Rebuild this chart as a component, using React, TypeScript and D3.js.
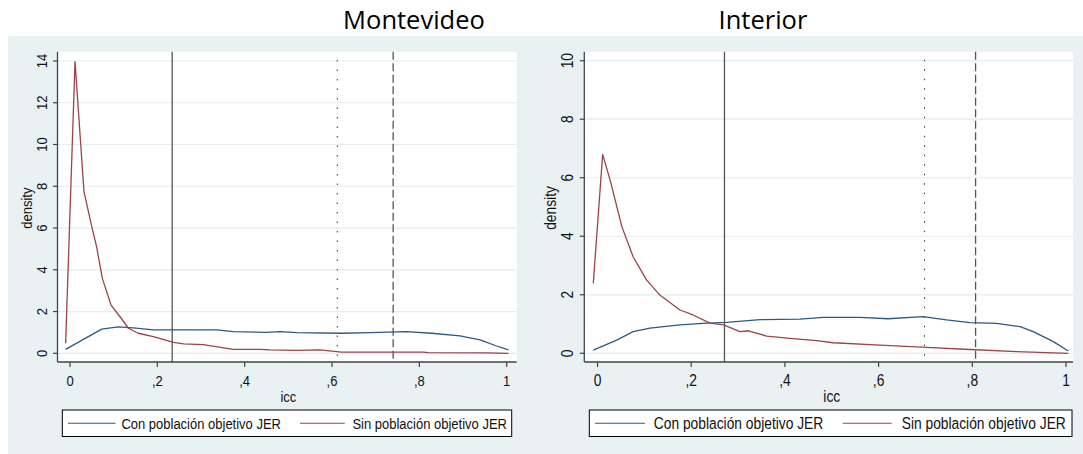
import React from "react";
import * as d3 from "d3";

// ---------- DATA ----------
const panelTitles = ["Montevideo", "Interior"];
const seriesNames = ["Con población objetivo JER", "Sin población objetivo JER"];
const xTickValues = [0, 0.2, 0.4, 0.6, 0.8, 1];
const xTickLabels = ["0", ",2", ",4", ",6", ",8", "1"];
const yTicksMontevideo = [0, 2, 4, 6, 8, 10, 12, 14];
const yTicksInterior = [0, 2, 4, 6, 8, 10];

// Montevideo: [icc, density]
const montevideoCon: [number, number][] = [
  [-0.01, 0.19], [0.0725, 1.16], [0.11, 1.27], [0.145, 1.22], [0.191, 1.12], [0.237, 1.12],
  [0.336, 1.12], [0.374, 1.04], [0.45, 1.0], [0.481, 1.04], [0.519, 0.99], [0.622, 0.96],
  [0.687, 0.99], [0.771, 1.04], [0.828, 0.96], [0.893, 0.83], [0.939, 0.64], [0.977, 0.35],
  [1.004, 0.16],
];
const montevideoSin: [number, number][] = [
  [-0.01, 0.48], [0.0115, 13.97], [0.032, 7.74], [0.05, 6.06], [0.061, 5.1], [0.074, 3.59],
  [0.094, 2.31], [0.1145, 1.75], [0.134, 1.2], [0.156, 0.96], [0.191, 0.8], [0.237, 0.52],
  [0.26, 0.45], [0.305, 0.42], [0.359, 0.24], [0.374, 0.19], [0.435, 0.19], [0.458, 0.16],
  [0.519, 0.14], [0.572, 0.16], [0.622, 0.06], [0.809, 0.06], [0.82, 0.03], [0.954, 0.02],
  [1.004, 0.0],
];
// Interior: [icc, density]
const interiorCon: [number, number][] = [
  [-0.009, 0.11], [0.041, 0.45], [0.076, 0.74], [0.112, 0.86], [0.176, 0.97], [0.233, 1.03],
  [0.276, 1.06], [0.347, 1.15], [0.432, 1.17], [0.482, 1.23], [0.56, 1.23], [0.62, 1.18],
  [0.695, 1.25], [0.745, 1.14], [0.795, 1.05], [0.852, 1.02], [0.902, 0.91], [0.93, 0.74],
  [0.973, 0.4], [1.005, 0.08],
];
const interiorSin: [number, number][] = [
  [-0.009, 2.39], [0.011, 6.8], [0.027, 5.92], [0.052, 4.33], [0.076, 3.3], [0.105, 2.5],
  [0.133, 1.99], [0.176, 1.48], [0.204, 1.31], [0.24, 1.03], [0.269, 0.97], [0.304, 0.74],
  [0.322, 0.77], [0.361, 0.59], [0.411, 0.51], [0.468, 0.43], [0.503, 0.36], [0.603, 0.28],
  [0.703, 0.2], [0.795, 0.13], [0.895, 0.06], [1.005, 0.0],
];
// reference lines: [solid, dotted, dashed]
const refMontevideo = [0.234, 0.612, 0.74];
const refInterior = [0.271, 0.698, 0.807];

// ---------- STYLE / LAYOUT ----------
const W = 1083;
const H = 454;
const BG = "#e9f1f3";
const GRID = "#e3ecef";
const AXIS = "#444";
const COLORS = ["#2b5a82", "#9a444a"];
const FONT = "'Liberation Sans', Arial, sans-serif";
const STRETCH = 1.13;

type Panel = {
  title: string;
  titleX: number;
  con: [number, number][];
  sin: [number, number][];
  refs: number[];
  yTicks: number[];
  yMax: number;
  plot: { left: number; right: number; top: number; bottom: number };
  x0: number; x1: number;
  y0: number; yTopVal: number; yTopPix: number;
  fs: number;
  yLabX: number; densX: number;
  legend: { left: number; right: number; s1: [number, number]; t1: number; s2: [number, number]; t2: number };
};

const panels: Panel[] = [
  {
    title: panelTitles[0], titleX: 414,
    con: montevideoCon, sin: montevideoSin, refs: refMontevideo,
    yTicks: yTicksMontevideo, yMax: 14,
    plot: { left: 57.5, right: 516.7, top: 51.7, bottom: 362 },
    x0: 70, x1: 506.7, y0: 353.3, yTopVal: 14, yTopPix: 61,
    fs: 13, yLabX: 46.5, densX: 31.5,
    legend: { left: 62.3, right: 511.7, s1: [68, 115.5], t1: 121.4, s2: [300, 344.8], t2: 352.4 },
  },
  {
    title: panelTitles[1], titleX: 763,
    con: interiorCon, sin: interiorSin, refs: refInterior,
    yTicks: yTicksInterior, yMax: 10,
    plot: { left: 584.3, right: 1073, top: 51.7, bottom: 362 },
    x0: 597.5, x1: 1066, y0: 353.3, yTopVal: 10, yTopPix: 60.7,
    fs: 13.8, yLabX: 572.5, densX: 555.5,
    legend: { left: 589.3, right: 1072, s1: [595, 645], t1: 653.8, s2: [842.8, 891.7], t2: 901.7 },
  },
];

function HText({ x, y, fs, anchor, children }: { x: number; y: number; fs: number; anchor?: string; children: React.ReactNode }) {
  return (
    <g transform={`translate(${x},${y}) scale(1,${STRETCH})`}>
      <text x={0} y={0} textAnchor={anchor ?? "start"} fontFamily={FONT} fontSize={fs} fill="#111">
        {children}
      </text>
    </g>
  );
}

function PanelView({ p }: { p: Panel }) {
  const x = d3.scaleLinear().domain([0, 1]).range([p.x0, p.x1]);
  const y = d3.scaleLinear().domain([0, p.yTopVal]).range([p.y0, p.yTopPix]);
  const line = d3
    .line<[number, number]>()
    .x((d) => x(d[0]))
    .y((d) => y(d[1]));
  const { left, right, top, bottom } = p.plot;
  const dashes = [null, "1.5,8", "8,3.5"];
  const lg = p.legend;
  const lgTop = 410;
  const lgBot = 436.5;
  const lgMid = (lgTop + lgBot) / 2;
  return (
    <g>
      <text x={p.titleX} y={29} textAnchor="middle" fontFamily="'Open Sans', sans-serif" fontSize={25.5} fill="#000">
        {p.title}
      </text>
      <rect x={left} y={top} width={right - left} height={bottom - top} fill="#fff" />
      {p.yTicks.map((t) => (
        <line key={"g" + t} x1={left} x2={right} y1={y(t)} y2={y(t)} stroke={GRID} strokeWidth={1.2} />
      ))}
      {p.refs.map((r, i) => (
        <line
          key={"r" + i}
          x1={x(r)} x2={x(r)}
          y1={i === 1 ? y(p.yTopVal) - 1 : top}
          y2={bottom}
          stroke={i === 1 ? "#333" : "#555"}
          strokeWidth={i === 1 ? 1 : 1.3}
          strokeDasharray={dashes[i] ?? undefined}
        />
      ))}
      <path d={line(p.con) ?? ""} fill="none" stroke={COLORS[0]} strokeWidth={1.3} strokeLinejoin="round" />
      <path d={line(p.sin) ?? ""} fill="none" stroke={COLORS[1]} strokeWidth={1.3} strokeLinejoin="round" />
      <line x1={left} x2={left} y1={top} y2={bottom} stroke={AXIS} strokeWidth={1.3} />
      <line x1={left} x2={right} y1={bottom} y2={bottom} stroke={AXIS} strokeWidth={1.3} />
      {p.yTicks.map((t) => (
        <g key={"yt" + t}>
          <line x1={left - 4.5} x2={left} y1={y(t)} y2={y(t)} stroke={AXIS} strokeWidth={1.2} />
          <text
            transform={`translate(${p.yLabX},${y(t)}) rotate(-90) scale(1,${STRETCH})`}
            textAnchor="middle"
            fontFamily={FONT}
            fontSize={p.fs}
            fill="#111"
          >
            {String(t)}
          </text>
        </g>
      ))}
      {xTickValues.map((t, i) => (
        <g key={"xt" + t}>
          <line x1={x(t)} x2={x(t)} y1={bottom} y2={bottom + 5} stroke={AXIS} strokeWidth={1.2} />
          <HText x={x(t)} y={385.5} fs={p.fs} anchor="middle">{xTickLabels[i]}</HText>
        </g>
      ))}
      <HText x={(p.x0 + p.x1) / 2} y={401.5} fs={p.fs} anchor="middle">icc</HText>
      <text
        transform={`translate(${p.densX},${(y(0) + y(p.yMax)) / 2 + 1}) rotate(-90) scale(1,${STRETCH})`}
        textAnchor="middle"
        fontFamily={FONT}
        fontSize={p.fs}
        fill="#111"
      >
        density
      </text>
      <rect x={lg.left} y={lgTop} width={lg.right - lg.left} height={lgBot - lgTop} fill="#fff" stroke="#000" strokeWidth={1} />
      <line x1={lg.s1[0]} x2={lg.s1[1]} y1={lgMid} y2={lgMid} stroke={COLORS[0]} strokeWidth={1.2} />
      <HText x={lg.t1} y={lgMid + 5.5} fs={p.fs}>{seriesNames[0]}</HText>
      <line x1={lg.s2[0]} x2={lg.s2[1]} y1={lgMid} y2={lgMid} stroke={COLORS[1]} strokeWidth={1.2} />
      <HText x={lg.t2} y={lgMid + 5.5} fs={p.fs}>{seriesNames[1]}</HText>
    </g>
  );
}

export default function App() {
  return (
    <div style={{ position: "absolute", left: 0, top: 0 }}>
      <svg width={W} height={H} viewBox={`0 0 ${W} ${H}`} style={{ display: "block", background: "#fff" }}>
        <rect x={8} y={36} width={W - 8} height={H - 36} fill={BG} />
        {panels.map((p) => (
          <PanelView key={p.title} p={p} />
        ))}
      </svg>
    </div>
  );
}
